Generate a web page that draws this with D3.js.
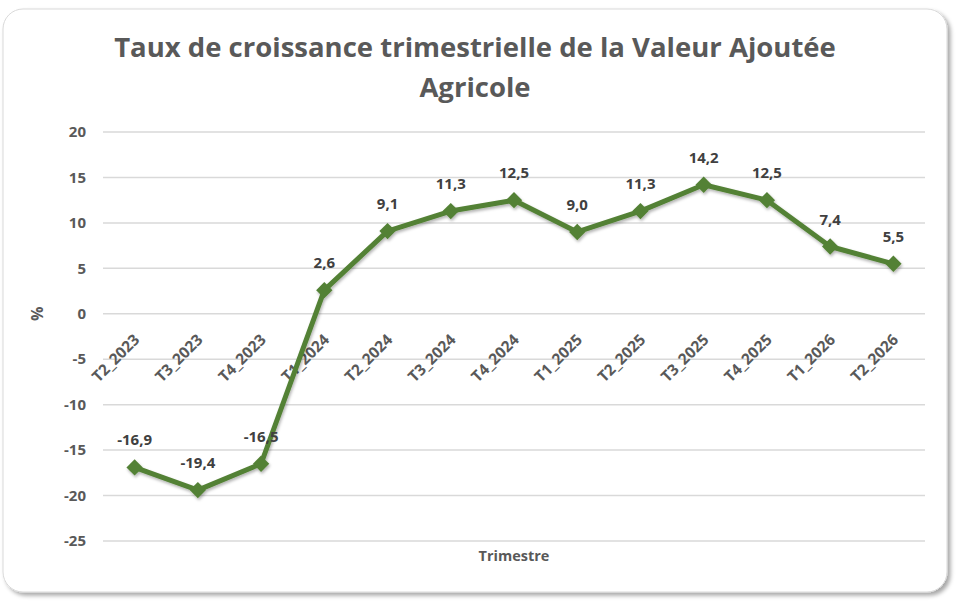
<!DOCTYPE html>
<html>
<head>
<meta charset="utf-8">
<script src="https://cdn.jsdelivr.net/npm/d3@7"></script>
<style>
  body { margin: 0; background: #fff; }
  svg { display: block; font-family: "Open Sans", "Noto Sans", sans-serif; }
</style>
</head>
<body>
<svg id="chart" width="963" height="603"></svg>
<script>
const quarters = ["T2_2023", "T3_2023", "T4_2023", "T1_2024", "T2_2024", "T3_2024", "T4_2024",
  "T1_2025", "T2_2025", "T3_2025", "T4_2025", "T1_2026", "T2_2026"];
const growth = [-16.9, -19.4, -16.5, 2.6, 9.1, 11.3, 12.5, 9.0, 11.3, 14.2, 12.5, 7.4, 5.5];
const yTicks = [20, 15, 10, 5, 0, -5, -10, -15, -20, -25];

const data = quarters.map((q, i) => ({ q: q, v: growth[i] }));

const svg = d3.select("#chart");
const defs = svg.append("defs");

const shadow = defs.append("filter").attr("id", "cardShadow")
  .attr("x", "-5%").attr("y", "-5%").attr("width", "110%").attr("height", "110%");
shadow.append("feDropShadow").attr("dx", 3).attr("dy", 3).attr("stdDeviation", 2)
  .attr("flood-color", "#000").attr("flood-opacity", 0.35);

const lineShadow = defs.append("filter").attr("id", "lineShadow")
  .attr("x", "-10%").attr("y", "-10%").attr("width", "120%").attr("height", "120%");
lineShadow.append("feDropShadow").attr("dx", 1).attr("dy", 2).attr("stdDeviation", 1.5)
  .attr("flood-color", "#000").attr("flood-opacity", 0.3);

// card
svg.append("rect")
  .attr("x", 3).attr("y", 9).attr("width", 944).attr("height", 583)
  .attr("rx", 20).attr("fill", "#fff")
  .attr("stroke", "#d9d9d9").attr("stroke-width", 1)
  .attr("filter", "url(#cardShadow)");

const margin = { left: 103, right: 925, top: 132, bottom: 541 };

const x = d3.scalePoint()
  .domain(quarters)
  .range([margin.left, margin.right])
  .padding(0.5);

const y = d3.scaleLinear()
  .domain([-25, 20])
  .range([margin.bottom, margin.top]);

// gridlines
svg.append("g")
  .selectAll("line")
  .data(yTicks)
  .join("line")
  .attr("x1", margin.left).attr("x2", margin.right)
  .attr("y1", d => y(d)).attr("y2", d => y(d))
  .attr("stroke", "#d9d9d9").attr("stroke-width", 1.5);

// y tick labels
svg.append("g")
  .selectAll("text")
  .data(yTicks)
  .join("text")
  .attr("x", 86).attr("y", d => y(d))
  .attr("dy", "0.35em")
  .attr("text-anchor", "end")
  .attr("font-size", 15).attr("font-weight", "bold")
  .attr("fill", "#595959")
  .text(d => d);

// x labels, sitting on the zero line
svg.append("g")
  .selectAll("text")
  .data(quarters)
  .join("text")
  .attr("transform", d => `translate(${x(d) + 6},${y(0) + 27}) rotate(-45)`)
  .attr("text-anchor", "end")
  .attr("font-size", 15.5).attr("font-weight", "bold")
  .attr("fill", "#595959")
  .text(d => d);

// line
const line = d3.line()
  .x(d => x(d.q))
  .y(d => y(d.v));

const series = svg.append("g").attr("filter", "url(#lineShadow)");

series.append("path")
  .datum(data)
  .attr("d", line)
  .attr("fill", "none")
  .attr("stroke", "#538135")
  .attr("stroke-width", 5)
  .attr("stroke-linejoin", "round");

series.selectAll(".marker")
  .data(data)
  .join("path")
  .attr("class", "marker")
  .attr("d", d3.symbol().type(d3.symbolDiamond2).size(170))
  .attr("transform", d => `translate(${x(d.q)},${y(d.v)})`)
  .attr("fill", "#538135");

// data labels
svg.append("g")
  .selectAll("text")
  .data(data)
  .join("text")
  .attr("x", d => x(d.q))
  .attr("y", d => y(d.v) - 22)
  .attr("text-anchor", "middle")
  .attr("font-size", 15).attr("font-weight", "bold")
  .attr("fill", "#404040")
  .text(d => d3.format(".1f")(d.v).replace(".", ",").replace("−", "-"));

// title
const title = svg.append("text")
  .attr("text-anchor", "middle")
  .attr("font-size", 27.5).attr("font-weight", "bold")
  .attr("fill", "#595959");
title.append("tspan").attr("x", 475).attr("y", 57)
  .text("Taux de croissance trimestrielle de la Valeur Ajoutée");
title.append("tspan").attr("x", 475).attr("y", 97).text("Agricole");

// axis titles
svg.append("text")
  .attr("transform", `translate(43,${y(0)}) rotate(-90)`)
  .attr("text-anchor", "middle")
  .attr("font-size", 16).attr("font-weight", "bold")
  .attr("fill", "#595959")
  .text("%");

svg.append("text")
  .attr("x", 514).attr("y", 561)
  .attr("text-anchor", "middle")
  .attr("font-size", 14.5).attr("font-weight", "bold")
  .attr("fill", "#595959")
  .text("Trimestre");
</script>
</body>
</html>
